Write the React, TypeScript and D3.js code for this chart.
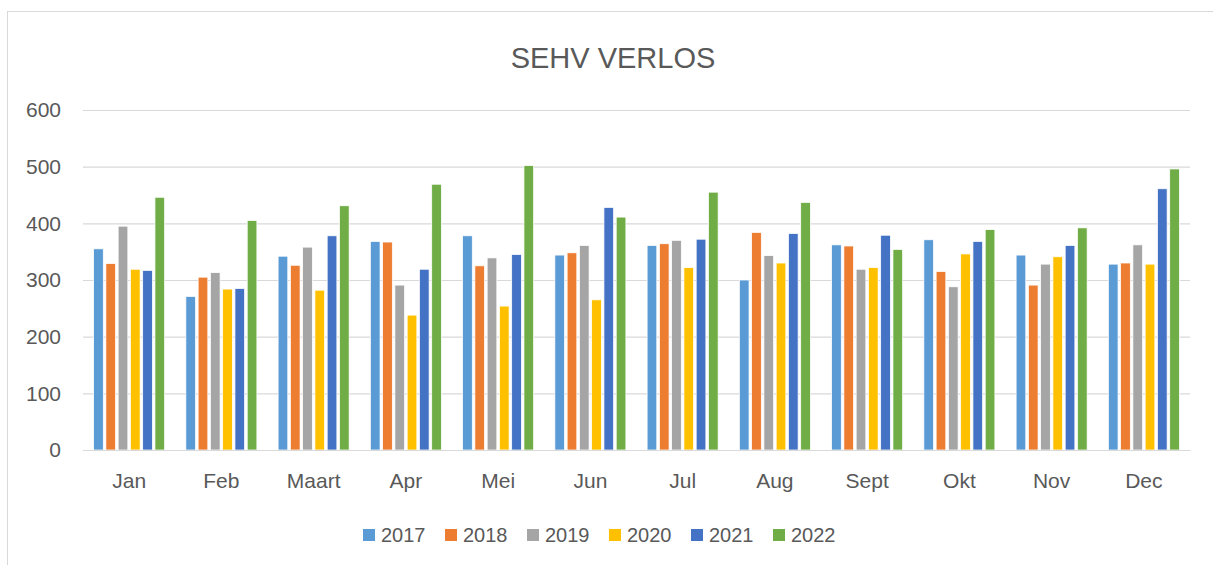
import { useEffect, useRef } from 'react';
import * as d3 from 'd3';

const months = ['Jan', 'Feb', 'Maart', 'Apr', 'Mei', 'Jun', 'Jul', 'Aug', 'Sept', 'Okt', 'Nov', 'Dec'];
const years = ['2017', '2018', '2019', '2020', '2021', '2022'];
const colors = ['#5B9BD5', '#ED7D31', '#A5A5A5', '#FFC000', '#4472C4', '#70AD47'];

const v2017 = [355, 271, 342, 368, 378, 344, 361, 300, 362, 371, 344, 328];
const v2018 = [329, 305, 326, 367, 325, 348, 364, 384, 360, 315, 291, 330];
const v2019 = [395, 313, 358, 291, 339, 361, 370, 343, 319, 288, 328, 362];
const v2020 = [319, 284, 282, 238, 254, 265, 322, 330, 322, 346, 341, 328];
const v2021 = [317, 285, 378, 319, 345, 428, 372, 382, 379, 368, 361, 461];
const v2022 = [446, 405, 431, 469, 502, 411, 455, 437, 354, 389, 392, 496];
const series = [v2017, v2018, v2019, v2020, v2021, v2022];

const yTicks = [0, 100, 200, 300, 400, 500, 600];
const title = 'SEHV VERLOS';

const W = 1213;
const H = 565;
const FONT = '"Liberation Sans", Arial, sans-serif';
const TEXT = '#595959';
const GRID = '#d9d9d9';

export default function App() {
  const ref = useRef<SVGSVGElement>(null);

  useEffect(() => {
    if (!ref.current) return;
    const svg = d3.select(ref.current);
    svg.selectAll('*').remove();

    const plot = { left: 83, right: 1190, top: 110, bottom: 450 };

    // chart frame
    svg.append('rect')
      .attr('x', 7.5).attr('y', 11.5)
      .attr('width', 1230).attr('height', 600)
      .attr('fill', '#fff')
      .attr('stroke', GRID)
      .attr('stroke-width', 1);

    svg.append('text')
      .attr('x', 613).attr('y', 68)
      .attr('text-anchor', 'middle')
      .attr('font-family', FONT)
      .attr('font-size', 29)
      .attr('fill', TEXT)
      .text(title);

    const x0 = d3.scaleBand<string>()
      .domain(months)
      .range([plot.left, plot.right])
      .paddingInner(0.23)
      .paddingOuter(0.115);

    const x1 = d3.scaleBand<string>()
      .domain(years)
      .range([0, x0.bandwidth()])
      .paddingInner(0.21);

    const y = d3.scaleLinear().domain([0, 600]).range([plot.bottom, plot.top]);

    // grid + y labels
    svg.append('g')
      .attr('transform', `translate(${plot.left},0)`)
      .call(d3.axisLeft(y).tickValues(yTicks).tickSize(-(plot.right - plot.left)).tickPadding(22))
      .call(g => g.select('.domain').remove())
      .call(g => g.selectAll('.tick line').attr('stroke', GRID).attr('stroke-width', 1.2))
      .call(g => g.selectAll('.tick text')
        .attr('fill', TEXT)
        .attr('font-family', FONT)
        .attr('font-size', 21));

    // bars
    const groups = svg.selectAll('.month')
      .data(months)
      .enter().append('g')
      .attr('class', 'month')
      .attr('transform', d => `translate(${x0(d)},0)`);

    groups.selectAll('rect')
      .data((_, mi) => years.map((yr, si) => ({ yr, value: series[si][mi], color: colors[si] })))
      .enter().append('rect')
      .attr('x', d => x1(d.yr)!)
      .attr('y', d => y(d.value))
      .attr('width', x1.bandwidth())
      .attr('height', d => y(0) - y(d.value))
      .attr('fill', d => d.color)
      .attr('stroke', '#fff')
      .attr('stroke-width', 0.75);

    // x axis
    svg.append('g')
      .attr('transform', `translate(0,${plot.bottom})`)
      .call(d3.axisBottom(x0).tickSize(0).tickPadding(23))
      .call(g => g.select('.domain').attr('stroke', GRID).attr('stroke-width', 1.2))
      .call(g => g.selectAll('.tick text')
        .attr('fill', TEXT)
        .attr('font-family', FONT)
        .attr('font-size', 21));

    // legend
    const legend = svg.append('g').attr('transform', 'translate(363,529)');
    const items = legend.selectAll('g')
      .data(years)
      .enter().append('g')
      .attr('transform', (_, i) => `translate(${i * 82},0)`);
    items.append('rect')
      .attr('width', 12).attr('height', 12)
      .attr('fill', (_, i) => colors[i]);
    items.append('text')
      .attr('x', 18).attr('y', 13)
      .attr('font-family', FONT)
      .attr('font-size', 20)
      .attr('fill', TEXT)
      .text(d => d);
  }, []);

  return (
    <svg
      ref={ref}
      width={W}
      height={H}
      style={{ position: 'absolute', left: 0, top: 0, display: 'block', background: '#fff' }}
    />
  );
}
